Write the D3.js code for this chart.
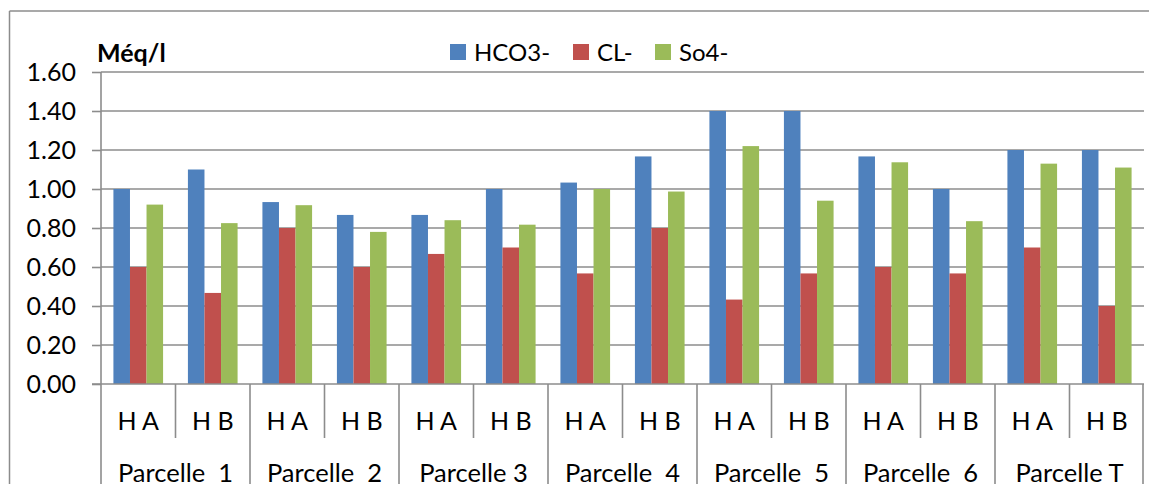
<!DOCTYPE html>
<html>
<head>
<meta charset="utf-8">
<script src="https://cdn.jsdelivr.net/npm/d3@7/dist/d3.min.js"></script>
<style>
  html, body { margin: 0; padding: 0; background: #fff; }
  svg { display: block; }
  text { font-family: Lato, "Open Sans", sans-serif; fill: #000; }
</style>
</head>
<body>
<svg id="chart" width="1149" height="484"></svg>
<script>
// Horizons sampled in each plot
const horizons = ["H A", "H B"];
const parcels = ["Parcelle  1", "Parcelle  2", "Parcelle 3", "Parcelle  4", "Parcelle  5", "Parcelle  6", "Parcelle T"];

// Anion concentrations (méq/l), ordered parcel by parcel, H A then H B
const seriesNames = ["HCO3-", "CL-", "So4-"];
const hco3 = [1.00, 1.10, 0.933, 0.867, 0.867, 1.00, 1.033, 1.167, 1.40, 1.40, 1.167, 1.00, 1.20, 1.20];
const cl   = [0.60, 0.467, 0.80, 0.60, 0.667, 0.70, 0.567, 0.80, 0.433, 0.567, 0.60, 0.567, 0.70, 0.40];
const so4  = [0.92, 0.825, 0.917, 0.78, 0.84, 0.817, 1.00, 0.987, 1.22, 0.94, 1.137, 0.835, 1.13, 1.11];
const yTicks = [0, 0.2, 0.4, 0.6, 0.8, 1.0, 1.2, 1.4, 1.6];
const colors = ["#4F81BD", "#C0504D", "#9BBB59"];

(function () {
  const seriesValues = [hco3, cl, so4];
  const cats = [];
  parcels.forEach((p, pi) => horizons.forEach((h, hi) => cats.push({ id: pi * 2 + hi, parcel: p, horizon: h })));

  const svg = d3.select("#chart");
  const plotL = 101, plotR = 1144, plotT = 72, plotB = 384, H = 484;
  const grid = "#8c8c8c";

  // outer frame
  svg.append("line").attr("x1", 9.5).attr("x2", 9.5).attr("y1", 11).attr("y2", H).attr("stroke", grid).attr("stroke-width", 1.5);
  svg.append("line").attr("x1", 9.5).attr("x2", 1149).attr("y1", 11).attr("y2", 11).attr("stroke", grid).attr("stroke-width", 1.5);

  const y = d3.scaleLinear().domain([0, 1.6]).range([plotB, plotT]);
  const x = d3.scaleBand().domain(cats.map(d => d.id)).range([plotL, plotR]).paddingInner(0).paddingOuter(0);
  const bw = x.bandwidth();
  const gap = bw * 1.5 / 4.5;
  const xs = d3.scaleBand().domain(d3.range(seriesNames.length)).range([gap / 2, bw - gap / 2]).padding(0);

  // horizontal gridlines
  svg.append("g").selectAll("line").data(yTicks.slice(1)).join("line")
    .attr("x1", plotL).attr("x2", plotR)
    .attr("y1", d => y(d)).attr("y2", d => y(d))
    .attr("stroke", grid).attr("stroke-width", 1.6);

  // y axis
  const yAxis = svg.append("g").attr("transform", `translate(${plotL},0)`)
    .call(d3.axisLeft(y).tickValues(yTicks).tickFormat(d3.format(".2f")).tickSize(9).tickPadding(16));
  yAxis.select(".domain").remove();
  yAxis.selectAll(".tick line").attr("stroke", grid).attr("stroke-width", 1.6);
  yAxis.selectAll(".tick text").attr("font-size", 25).attr("fill", "#000").attr("font-family", "Lato, sans-serif");

  // bars
  const barG = svg.append("g");
  seriesValues.forEach((vals, si) => {
    barG.append("g").selectAll("rect").data(cats).join("rect")
      .attr("x", d => x(d.id) + xs(si))
      .attr("width", xs.bandwidth())
      .attr("y", d => y(vals[d.id]))
      .attr("height", d => y(0) - y(vals[d.id]))
      .attr("fill", colors[si]);
  });

  // axis lines
  svg.append("line").attr("x1", plotL).attr("x2", plotL).attr("y1", plotT).attr("y2", H).attr("stroke", grid).attr("stroke-width", 1.6);
  svg.append("line").attr("x1", plotL - 9).attr("x2", plotR).attr("y1", plotB).attr("y2", plotB).attr("stroke", grid).attr("stroke-width", 1.6);

  // category separators: short between horizons, full height between parcels
  const seps = d3.range(1, cats.length + 1);
  svg.append("g").selectAll("line").data(seps).join("line")
    .attr("x1", i => i === cats.length ? plotR - 1 : x(i))
    .attr("x2", i => i === cats.length ? plotR - 1 : x(i))
    .attr("y1", plotB)
    .attr("y2", i => i % 2 === 0 ? H : 438)
    .attr("stroke", grid).attr("stroke-width", 1.6);

  // horizon labels
  svg.append("g").selectAll("text").data(cats).join("text")
    .attr("x", d => x(d.id) + bw / 2).attr("y", 429.5)
    .attr("text-anchor", "middle").attr("font-size", 25)
    .text(d => d.horizon);

  // parcel labels
  svg.append("g").selectAll("text").data(parcels).join("text")
    .attr("x", (d, i) => x(i * 2) + bw)
    .attr("y", 482)
    .attr("text-anchor", "middle").attr("font-size", 25.5)
    .style("white-space", "pre")
    .text(d => d);

  // unit title
  svg.append("text").attr("x", 97).attr("y", 61.5).attr("font-size", 25).attr("font-weight", "bold").text("Méq/l");

  // legend
  const legendX = [450, 573, 655];
  const lg = svg.append("g");
  seriesNames.forEach((n, i) => {
    lg.append("rect").attr("x", legendX[i]).attr("y", 44).attr("width", 16).attr("height", 16).attr("fill", colors[i]);
    lg.append("text").attr("x", legendX[i] + 24).attr("y", 61).attr("font-size", 24).text(n);
  });
})();
</script>
</body>
</html>
